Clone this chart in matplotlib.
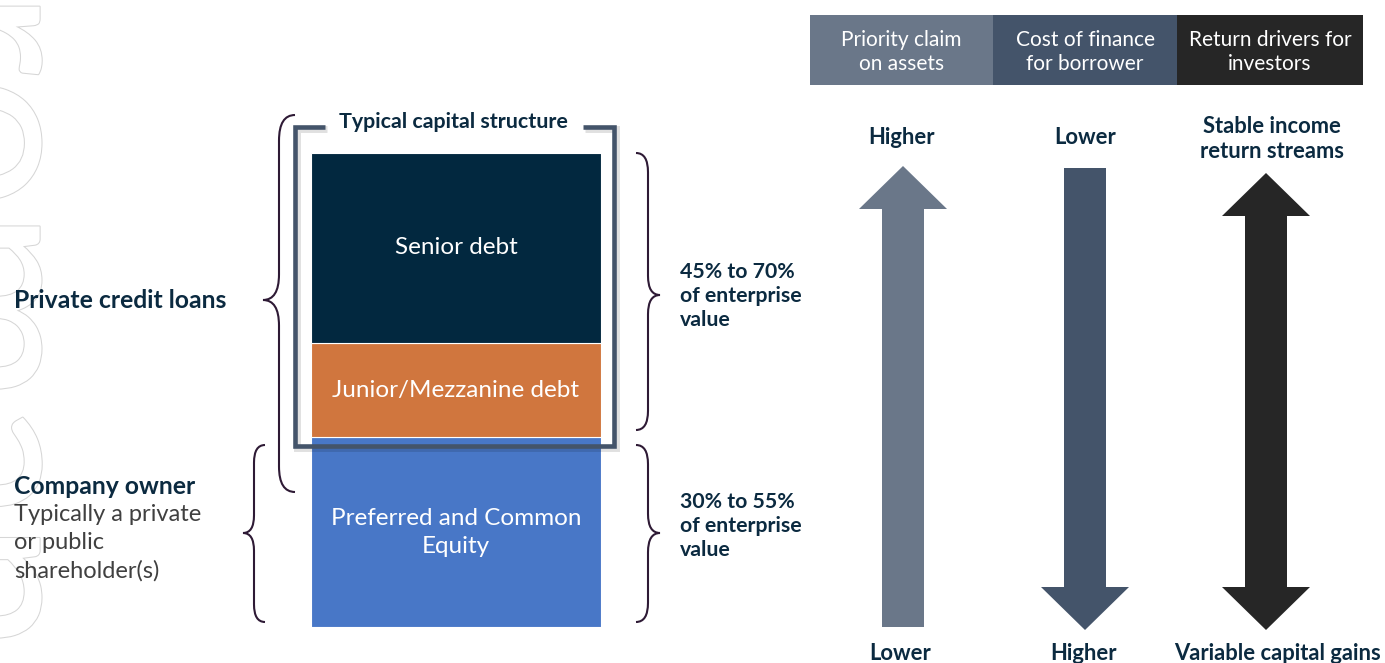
import matplotlib
matplotlib.use("Agg")
import matplotlib.pyplot as plt
from matplotlib.patches import Rectangle, Polygon, PathPatch
from matplotlib.path import Path
import matplotlib.patheffects as pe

plt.rcParams['font.family'] = ['Lato', 'DejaVu Sans']

# capital structure, bottom to top (share of enterprise value, approx.)
segments = ['Preferred and Common\nEquity', 'Junior/Mezzanine debt', 'Senior debt']
shares = [40, 20, 40]
seg_colors = ['#4877c7', '#d0763e', '#02283f']

headers = ['Priority claim\non assets', 'Cost of finance\nfor borrower', 'Return drivers for\ninvestors']
head_colors = ['#6a7789', '#44546a', '#262626']
top_labels = ['Higher', 'Lower', 'Stable income\nreturn streams']
bottom_labels = ['Lower', 'Higher', 'Variable capital gains']

debt_range = '45% to 70%\nof enterprise\nvalue'
equity_range = '30% to 55%\nof enterprise\nvalue'

NAVY = '#0b2a40'
BRACE = '#2e1a35'
BOLD = 'bold'

W, H = 1385, 663
fig = plt.figure(figsize=(W / 100, H / 100), dpi=100)

# stacked bar first, overlay axes afterwards so the frame sits on top
axb = fig.add_axes([311 / W, 36 / H, 290 / W, 474 / H])
bottom = 0
for lab, val, col in zip(segments, shares, seg_colors):
    axb.bar(0, val, bottom=bottom, width=1, color=col, edgecolor='white', linewidth=0.8)
    axb.text(0, bottom + val / 2, lab, ha='center', va='center', color='white',
             fontsize=17.5, fontweight='normal', linespacing=1.4)
    bottom += val
axb.set_xlim(-0.5, 0.5)
axb.set_ylim(0, sum(shares))
axb.axis('off')

ax = fig.add_axes([0, 0, 1, 1])
ax.set_xlim(0, W)
ax.set_ylim(H, 0)
ax.axis('off')
ax.patch.set_alpha(0)

# faint outlined watermark on the left edge (mostly outside the slide)
ax.text(-80, -10, 'romances', rotation=-90, rotation_mode='anchor', ha='left',
        va='baseline', fontsize=170, color='white', fontweight='normal',
        path_effects=[pe.withStroke(linewidth=1.5, foreground='#d6d6d6')])


def brace(x_spine, x_tip, y0, y1, ymid):
    h = x_spine - x_tip
    v = abs(h) * 1.6
    verts = [(x_spine + h, y0), (x_spine, y0), (x_spine, y0 + v),
             (x_spine, ymid - v), (x_spine, ymid), (x_tip, ymid),
             (x_spine, ymid), (x_spine, ymid + v),
             (x_spine, y1 - v), (x_spine, y1), (x_spine + h, y1)]
    codes = [Path.MOVETO, Path.CURVE3, Path.CURVE3,
             Path.LINETO, Path.CURVE3, Path.CURVE3,
             Path.CURVE3, Path.CURVE3,
             Path.LINETO, Path.CURVE3, Path.CURVE3]
    ax.add_patch(PathPatch(Path(verts, codes), facecolor='none', edgecolor=BRACE, lw=1.5))


brace(279, 263, 115, 492, 300)
brace(254, 243, 445, 622, 533)
brace(648, 660, 153, 430, 295)
brace(648, 660, 445, 622, 533)

# frame around the debt part
fx = [325, 295, 295, 614, 614, 583]
fy = [127, 127, 446, 446, 127, 127]
ax.plot([x + 2 for x in fx], [y + 2 for y in fy], color='#000000', alpha=0.12, lw=5,
        solid_joinstyle='miter', solid_capstyle='butt')
ax.plot(fx, fy, color='#44546a', lw=3.3, solid_joinstyle='miter', solid_capstyle='butt')
ax.text(453, 122, 'Typical capital structure', ha='center', va='center',
        fontsize=15.4, fontweight=BOLD, color=NAVY)

# left labels
ax.text(14, 301, 'Private credit loans', ha='left', va='center', fontsize=17.8,
        fontweight=BOLD, color=NAVY)
ax.text(14, 486, 'Company owner', ha='left', va='center', fontsize=17.8,
        fontweight=BOLD, color=NAVY)
ax.text(14, 543, 'Typically a private\nor public\nshareholder(s)', ha='left', va='center',
        fontsize=17, color='#404040', linespacing=1.42)

# right-side ranges
ax.text(680, 296, debt_range, ha='left', va='center', fontsize=15.3,
        fontweight=BOLD, color=NAVY, linespacing=1.23)
ax.text(680, 526, equity_range, ha='left', va='center', fontsize=15.3,
        fontweight=BOLD, color=NAVY, linespacing=1.23)

# header boxes
hx = [810, 993, 1177]
hw = [183, 184, 186]
for x, w, txt, col in zip(hx, hw, headers, head_colors):
    ax.add_patch(Rectangle((x, 15), w, 70, facecolor=col, edgecolor='none'))
    ax.text(x + w / 2, 52, txt, ha='center', va='center', color='white',
            fontsize=15, fontweight='normal', linespacing=1.22)


def arrow(xc, y_top, y_bot, up, down, col, shaft=42, head=88, hl=43):
    s, hh = shaft / 2, head / 2
    pts = []
    if up:
        pts += [(xc - s, y_top + hl), (xc - hh, y_top + hl), (xc, y_top),
                (xc + hh, y_top + hl), (xc + s, y_top + hl)]
    else:
        pts += [(xc - s, y_top), (xc + s, y_top)]
    if down:
        pts += [(xc + s, y_bot - hl), (xc + hh, y_bot - hl), (xc, y_bot),
                (xc - hh, y_bot - hl), (xc - s, y_bot - hl)]
    else:
        pts += [(xc + s, y_bot), (xc - s, y_bot)]
    ax.add_patch(Polygon(pts, closed=True, facecolor=col, edgecolor='none'))


arrow(903, 166, 627, True, False, head_colors[0])
arrow(1085, 168, 630, False, True, head_colors[1])
arrow(1266, 173, 630, True, True, head_colors[2])

for x, y, lab in zip([901, 1085, 1272], [137, 137, 139], top_labels):
    ax.text(x, y, lab, ha='center', va='center', fontsize=15.8, fontweight=BOLD,
            color=NAVY, linespacing=1.23)
for x, lab in zip([900, 1084, 1278], bottom_labels):
    ax.text(x, 653, lab, ha='center', va='center', fontsize=15.8, fontweight=BOLD, color=NAVY)

fig.savefig('out.png', dpi=100, facecolor='white')
